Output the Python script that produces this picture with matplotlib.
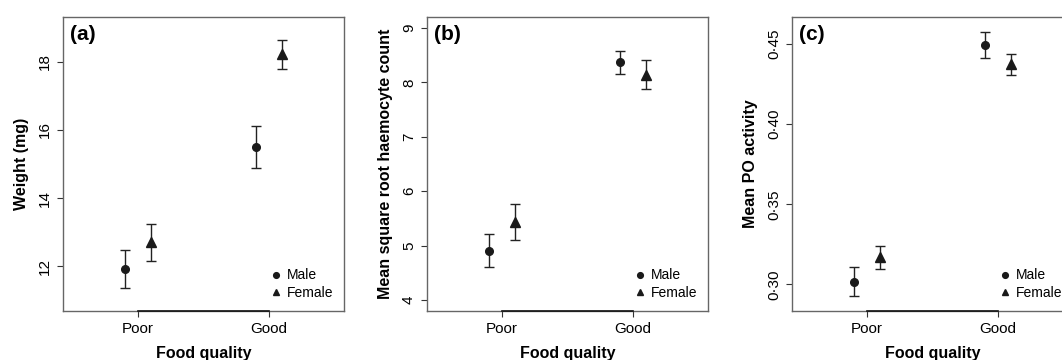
import matplotlib
matplotlib.use('Agg')
import matplotlib.pyplot as plt
import numpy as np

plt.rcParams['font.family'] = ['Liberation Sans', 'DejaVu Sans']

# data
quality = ['Poor', 'Good']
sexes = ['Male', 'Female']

weight_male = [11.92, 15.51]
weight_male_se = [0.55, 0.62]
weight_female = [12.70, 18.22]
weight_female_se = [0.55, 0.42]

haemo_male = [4.91, 8.37]
haemo_male_se = [0.30, 0.21]
haemo_female = [5.43, 8.14]
haemo_female_se = [0.33, 0.27]

po_male = [0.3017, 0.4494]
po_male_se = [0.0090, 0.0080]
po_female = [0.3168, 0.4375]
po_female_se = [0.0070, 0.0065]

panels = [
    dict(tag='(a)', ylabel='Weight (mg)', ylim=(10.68, 19.32), yticks=[12, 14, 16, 18],
         fmt=lambda v: '%d' % v,
         m=weight_male, mse=weight_male_se, f=weight_female, fse=weight_female_se),
    dict(tag='(b)', ylabel='Mean square root haemocyte count', ylim=(3.80, 9.20), yticks=[4, 5, 6, 7, 8, 9],
         fmt=lambda v: '%d' % v,
         m=haemo_male, mse=haemo_male_se, f=haemo_female, fse=haemo_female_se),
    dict(tag='(c)', ylabel='Mean PO activity', ylim=(0.2833, 0.4670), yticks=[0.30, 0.35, 0.40, 0.45],
         fmt=lambda v: ('%.2f' % v).replace('.', '\u00b7'),
         m=po_male, mse=po_male_se, f=po_female, fse=po_female_se),
]

W, H = 1062, 360
fig = plt.figure(figsize=(W / 100, H / 100), dpi=100)
lefts = [63, 427, 792]
x = np.arange(1, len(quality) + 1)
off = 0.1

for left, p in zip(lefts, panels):
    ax = fig.add_axes([left / W, 1 - 311 / H, 281 / W, 294 / H])
    ax.errorbar(x - off, p['m'], yerr=p['mse'], fmt='none', ecolor='#222222',
                elinewidth=1, capsize=3.8, capthick=1)
    ax.errorbar(x + off, p['f'], yerr=p['fse'], fmt='none', ecolor='#222222',
                elinewidth=1, capsize=3.8, capthick=1)
    ax.plot(x - off, p['m'], 'o', color='#1a1a1a', ms=5.5, label=sexes[0])
    ax.plot(x + off, p['f'], '^', color='#1a1a1a', ms=6.5, label=sexes[1])

    ax.set_xlim(0.427, 2.573)
    ax.set_ylim(*p['ylim'])
    ax.set_xticks(x)
    ax.set_xticklabels(quality)
    ax.set_yticks(p['yticks'])
    ax.set_yticklabels([p['fmt'](v) for v in p['yticks']])
    ax.tick_params(axis='both', direction='out', length=4, width=0.8, color='#333333',
                   labelsize=11, pad=4)
    ax.tick_params(axis='y', labelrotation=90)
    for lab in ax.get_yticklabels():
        lab.set_va('center')
    for s in ax.spines.values():
        s.set_color('#666666')
        s.set_linewidth(1)
    # axis line between first and last tick
    ax.plot([x[0], x[-1]], [p['ylim'][0]] * 2, color='#111111', lw=1.2,
            clip_on=False, zorder=5)

    ax.set_ylabel(p['ylabel'], fontsize=11.5, fontweight='bold', va='center')
    ax.yaxis.set_label_coords(-0.148, 0.5)
    ax.set_xlabel('Food quality', fontsize=11.5, fontweight='bold', va='baseline')
    ax.xaxis.set_label_coords(0.5, -0.161)
    ax.text(0.025, 0.939, p['tag'], transform=ax.transAxes, fontsize=15,
            fontweight='bold', va='center', ha='left')

    ax.legend(loc='lower right', frameon=False, fontsize=10, handlelength=0.8,
              handletextpad=0.35, labelspacing=0.25, borderaxespad=0.4,
              markerscale=0.75)

fig.savefig('out.png', dpi=100)
